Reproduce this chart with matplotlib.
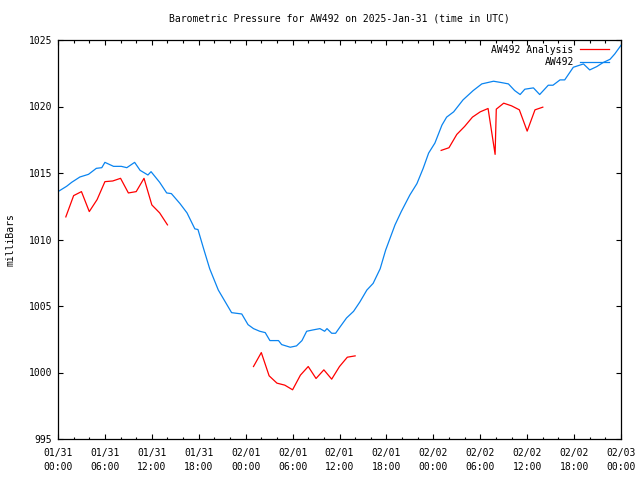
import numpy as np
import matplotlib
matplotlib.use("Agg")
import matplotlib.pyplot as plt
from matplotlib.ticker import MultipleLocator

# Hours since 2025-01-31 00:00 UTC
obs_hours = [0, 1.1, 1.75, 2.8, 3.9, 4.9, 5.6, 6.0, 7.1, 8.1, 8.8, 9.8, 10.5, 11.5, 11.9,
             13.0, 13.9, 14.5, 15.6, 16.5, 17.5, 17.9, 18.6, 19.4, 20.5, 21.4, 22.2, 23.5,
             24.3, 25.0, 25.8, 26.5, 27.1, 28.2, 28.6, 29.7, 30.5, 31.2, 31.8, 32.6, 33.5,
             34.1, 34.4, 35.0, 35.5, 36.1, 36.9, 37.8, 38.6, 39.5, 40.3, 41.2, 41.9, 43.1,
             43.9, 45.0, 45.9, 46.7, 47.4, 48.2, 49.1, 49.7, 50.6, 51.8, 53.1, 54.2, 55.7,
             56.7, 57.6, 58.4, 59.1, 59.7, 60.8, 61.6, 62.7, 63.3, 64.2, 64.8, 65.9, 67.2,
             68.0, 68.9, 69.7, 70.6, 71.2, 72.0]
obs_values = [1013.6, 1014.0, 1014.3, 1014.7, 1014.9, 1015.35, 1015.4, 1015.8, 1015.5, 1015.5,
              1015.4, 1015.8, 1015.2, 1014.85, 1015.1, 1014.3, 1013.5, 1013.45, 1012.7, 1012.0,
              1010.8, 1010.75, 1009.35, 1007.8, 1006.2, 1005.3, 1004.5, 1004.4, 1003.6, 1003.3,
              1003.1, 1003.0, 1002.4, 1002.4, 1002.1, 1001.9, 1002.0, 1002.4, 1003.1, 1003.2,
              1003.3, 1003.1, 1003.3, 1002.95, 1002.95, 1003.45, 1004.1, 1004.6, 1005.3, 1006.2,
              1006.7, 1007.8, 1009.2, 1011.1, 1012.1, 1013.35, 1014.2, 1015.35, 1016.5, 1017.25,
              1018.6, 1019.2, 1019.6, 1020.5, 1021.2, 1021.7, 1021.9, 1021.8, 1021.7, 1021.2,
              1020.9, 1021.3, 1021.4, 1020.9, 1021.6, 1021.6, 1022.0, 1022.0, 1022.95, 1023.2,
              1022.75, 1023.0, 1023.3, 1023.55, 1023.95, 1024.6]

ana_hours = [1, 2, 3, 4, 5, 6, 7, 8, 9, 10, 11, 12, 13, 14, np.nan,
             25, 26, 27, 28, 29, 30, 31, 32, 33, 34, 35, 36, 37, 38, np.nan,
             49, 50, 51, 52, 53, 54, 55, 55.9, 56.05, 57, 58, 59, 60, 61, 62]
ana_values = [1011.7, 1013.3, 1013.6, 1012.1, 1013.0, 1014.35, 1014.4, 1014.6, 1013.5, 1013.6,
              1014.6, 1012.6, 1012.0, 1011.1, np.nan,
              1000.45, 1001.5, 999.75, 999.2, 999.05, 998.7, 999.8, 1000.45, 999.55, 1000.2,
              999.5, 1000.45, 1001.15, 1001.25, np.nan,
              1016.7, 1016.9, 1017.9, 1018.5, 1019.2, 1019.6, 1019.85, 1016.4, 1019.8, 1020.25,
              1020.05, 1019.75, 1018.15, 1019.75, 1019.95]

tick_hours = [0, 6, 12, 18, 24, 30, 36, 42, 48, 54, 60, 66, 72]
tick_labels = ["01/31\n00:00", "01/31\n06:00", "01/31\n12:00", "01/31\n18:00",
               "02/01\n00:00", "02/01\n06:00", "02/01\n12:00", "02/01\n18:00",
               "02/02\n00:00", "02/02\n06:00", "02/02\n12:00", "02/02\n18:00",
               "02/03\n00:00"]

plt.rcParams['font.family'] = ['DejaVu Sans Mono']
plt.rcParams['font.size'] = 7

fig = plt.figure(figsize=(6.4, 4.8), dpi=100)
ax = fig.add_axes([58/640, 1-439/480, (621-58)/640, (439-40)/480])

ax.plot(ana_hours, ana_values, color='#ff0000', lw=0.9, label='AW492 Analysis')
ax.plot(obs_hours, obs_values, color='#0a84f0', lw=0.9, label='AW492')

ax.set_xlim(0, 72)
ax.set_ylim(995, 1025)
ax.set_xticks(tick_hours)
ax.set_xticklabels(tick_labels, linespacing=1.45)
ax.xaxis.set_minor_locator(MultipleLocator(2))
ax.set_yticks(np.arange(995, 1026, 5))
ax.tick_params(which='both', direction='in', top=True, right=True, width=0.8)
ax.tick_params(which='major', length=3.3, pad=4)
ax.tick_params(which='minor', length=1.8)
ax.tick_params(axis='x', which='major', pad=6.5)
for s in ax.spines.values():
    s.set_linewidth(0.9)

ax.set_ylabel('milliBars', labelpad=10)
ax.set_title('Barometric Pressure for AW492 on 2025-Jan-31 (time in UTC)', pad=13, fontsize=7)

leg = ax.legend(loc='upper right', bbox_to_anchor=(1 - 5/563, 1 + 2/399),
                frameon=False, markerfirst=False,
                handlelength=3.0, handletextpad=0.65, labelspacing=0.25,
                borderaxespad=0.3, fontsize=7)
for t in leg.get_texts():
    t.set_ha('right')

fig.savefig('out.png', dpi=100)
